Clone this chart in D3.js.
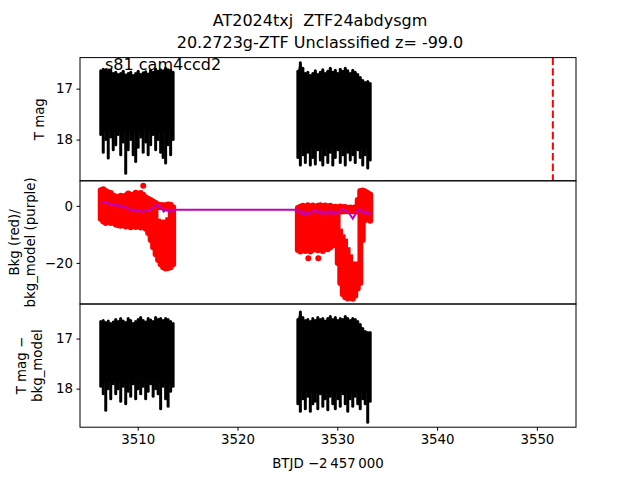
<!DOCTYPE html>
<html><head><meta charset="utf-8">
<script src="https://cdn.jsdelivr.net/npm/d3@7"></script>
<style>body{margin:0;background:#fff}text{font-family:"DejaVu Sans",sans-serif;white-space:pre}</style>
</head><body><svg id="c" width="640" height="480"></svg>
<script>
// ---- data ----
const titleLines = ["AT2024txj  ZTF24abdysgm", "20.2723g-ZTF Unclassified z= -99.0"];
const sectorLabel = "s81 cam4ccd2";
const xTicks = [3510, 3520, 3530, 3540, 3550];
const magTicks = [17, 18];
const bkgTicks = [0, -20];
const markerTime = 3551.6;

const t1 = [3506.3,3506.55,3506.8,3507.05,3507.3,3507.55,3507.8,3508.05,3508.3,3508.55,3508.8,3509.05,3509.3,3509.55,3509.8,3510.05,3510.3,3510.55,3510.8,3511.05,3511.3,3511.55,3511.8,3512.05,3512.3,3512.55,3512.8,3513.05,3513.3,3513.55];
const t2 = [3526.05,3526.3,3526.55,3526.8,3527.05,3527.3,3527.55,3527.8,3528.05,3528.3,3528.55,3528.8,3529.05,3529.3,3529.55,3529.8,3530.05,3530.3,3530.55,3530.8,3531.05,3531.3,3531.55,3531.8,3532.05,3532.3,3532.55,3532.8,3533.05,3533.3];

// T mag (upper / lower extent of the error bars in each time bin)
const magHi1 = [16.65,16.62,16.63,16.66,16.64,16.7,16.68,16.72,16.7,16.66,16.73,16.7,16.68,16.74,16.7,16.66,16.72,16.69,16.67,16.71,16.64,16.68,16.62,16.66,16.63,16.65,16.6,16.63,16.64,16.68];
const magLo1 = [17.9,18.25,18.0,18.36,17.95,18.2,18.1,17.9,18.3,18.05,18.66,18.2,18.0,18.3,18.43,18.15,17.95,18.25,18.05,18.3,18.1,17.9,18.2,18.0,18.25,18.35,18.46,18.1,18.3,18.0];
const magHi2 = [16.66,16.49,16.6,16.7,16.68,16.74,16.7,16.65,16.72,16.68,16.63,16.7,16.66,16.6,16.68,16.64,16.7,16.62,16.66,16.6,16.65,16.7,16.64,16.68,16.72,16.78,16.84,16.88,16.86,16.9];
const magLo2 = [18.35,18.5,18.3,18.45,18.25,18.5,18.35,18.48,18.2,18.4,18.5,18.3,18.45,18.25,18.5,18.35,18.2,18.45,18.3,18.5,18.25,18.4,18.3,18.45,18.2,18.35,18.5,18.3,18.56,18.4];
const magBody1 = 17.85, magBody2 = 18.18;

// Background (red) extent per bin, with white gaps inside the cloud
const bkgTop1 = [5.5,5.8,5.2,4.8,4.5,3.6,3.3,3.0,3.5,3.2,3.6,4.3,4.0,3.8,4.6,4.2,4.5,3.9,3.0,2.5,2.0,1.5,1.0,0.5,0.3,0.2,0.2,0.5,0.4,-0.5];
const bkgBot1 = [-4.5,-5.5,-6.0,-5.2,-6.0,-5.8,-6.5,-6.8,-7.0,-6.5,-7.2,-6.8,-7.5,-7.0,-7.4,-7.0,-7.6,-7.2,-8.0,-9.5,-12.0,-14.5,-17.0,-19.0,-20.5,-21.5,-22.0,-21.8,-21.5,-20.5];
const bkgTop2 = [-0.8,-0.3,0.0,-0.5,0.2,-0.3,0.1,-0.4,0.0,0.2,-0.2,0.1,-0.3,0.0,-0.5,-0.3,-0.5,-0.2,-0.5,-0.4,-0.8,-0.6,-0.8,-0.5,2.0,5.2,5.4,5.0,4.5,4.0];
const bkgBot2 = [-15.5,-16.0,-15.0,-15.8,-15.2,-16.0,-15.4,-14.8,-15.6,-15.0,-15.8,-14.6,-15.2,-14.5,-13.8,-13.0,-20.0,-27.0,-31.0,-32.0,-32.5,-32.0,-32.6,-31.5,-29.0,-27.0,-12.0,-5.0,-4.5,-5.2];
const gapT = [3512.3,3512.55,3512.8,3530.55,3530.8,3531.05,3531.3,3531.55,3531.8];
const gapHi = [-1.5,-1.5,-2.0,-3.0,-3.0,-3.0,-3.0,-3.0,-3.0];
const gapLo = [-4.5,-4.8,-4.0,-8.0,-10.0,-11.5,-14.5,-17.0,-19.5];
const bkgOutT = [3510.56,3527.1,3528.1];
const bkgOutV = [7.0,-18.4,-18.4];

// Background model (purple)
const modelT = [3506.3,3506.6,3506.9,3507.2,3507.5,3507.8,3508.1,3508.4,3508.7,3509.0,3509.3,3509.6,3509.9,3510.2,3510.5,3510.8,3511.1,3511.4,3511.7,3512.0,3512.3,3512.6,3512.9,3513.2,3513.5,
  3526.1,3526.3,3526.55,3526.8,3527.05,3527.3,3527.55,3527.8,3528.05,3528.3,3528.55,3528.8,3529.05,3529.3,3529.55,3529.8,3530.05,3530.3,3530.55,3530.8,3531.05,3531.3,3531.55,3531.8,3532.05,3532.3,3532.55,3532.8,3533.05,3533.3];
const modelV = [1.6,1.0,1.2,0.5,0.7,0.0,0.3,-0.5,-0.2,-1.0,-1.6,-1.2,-2.0,-1.6,-2.2,-1.5,-1.8,-1.0,-0.3,0.4,-0.5,-2.0,-1.2,-2.2,-1.4,
  -1.4,-2.8,-1.8,-3.3,-2.2,-3.0,-2.0,-1.3,-2.5,-1.8,-3.2,-2.0,-2.8,-1.6,-3.0,-2.2,-2.8,-1.4,-1.2,-1.6,-2.0,-3.2,-4.5,-3.0,-1.5,-1.2,-2.6,-1.8,-3.0,-2.0];

// T mag - bkg_model
const detHi1 = [16.66,16.64,16.68,16.65,16.7,16.67,16.62,16.66,16.6,16.65,16.68,16.6,16.64,16.7,16.66,16.62,16.58,16.64,16.67,16.6,16.63,16.66,16.58,16.62,16.6,16.64,16.6,16.62,16.66,16.7];
const detLo1 = [17.95,18.1,18.43,18.0,18.2,17.9,18.1,18.0,18.25,17.95,18.3,18.05,18.15,17.9,18.2,18.0,18.1,17.95,18.2,18.05,17.9,18.15,18.0,18.1,18.4,17.95,18.2,18.35,18.05,17.95];
const detHi2 = [16.62,16.47,16.58,16.64,16.62,16.66,16.6,16.64,16.58,16.62,16.6,16.65,16.6,16.56,16.62,16.58,16.64,16.6,16.62,16.56,16.6,16.64,16.6,16.62,16.66,16.72,16.8,16.86,16.88,16.88];
const detLo2 = [18.3,18.45,18.2,18.4,18.15,18.45,18.3,18.25,18.4,18.1,18.35,18.2,18.42,18.15,18.3,18.4,18.2,18.35,18.1,18.3,18.45,18.2,18.35,18.15,18.3,18.4,18.2,18.3,18.67,18.25];
const detBody1 = 17.88, detBody2 = 18.08;

// ---- layout ----
const svg = d3.select("#c");
const L = 80, R = 576, T = 57.6, B = 427.2, ph = (B - T) / 3;
const x = d3.scaleLinear().domain([3504.22, 3553.92]).range([L, R]);
const yMag = d3.scaleLinear().domain([16.39, 18.81]).range([T, T + ph]);
const yBkg = d3.scaleLinear().domain([8.77, -34.4]).range([T + ph, T + 2 * ph]);
const yDet = d3.scaleLinear().domain([16.31, 18.77]).range([T + 2 * ph, B]);

const defs = svg.append("defs");
[0, 1, 2].forEach(i => {
  defs.append("clipPath").attr("id", "cp" + i).append("rect")
    .attr("x", L).attr("y", T + i * ph).attr("width", R - L).attr("height", ph);
});

function body(g, ts, hi, lo, y, color) {
  g.append("path").datum(ts.map((t, i) => [t, hi[i], lo[i]]))
    .attr("d", d3.area().curve(d3.curveMonotoneX).x(d => x(d[0])).y0(d => y(d[1])).y1(d => y(d[2])))
    .attr("fill", color);
}
function bars(g, ts, hi, lo, y, color, w) {
  g.selectAll(null).data(ts.map((t, i) => [t, hi[i], lo[i]])).enter().append("line")
    .attr("x1", d => x(d[0])).attr("x2", d => x(d[0]))
    .attr("y1", d => y(d[1])).attr("y2", d => y(d[2]))
    .attr("stroke", color).attr("stroke-width", w).attr("stroke-linecap", "round");
}

// Panel 1
const g1 = svg.append("g").attr("clip-path", "url(#cp0)");
body(g1, t1, magHi1, t1.map(() => magBody1), yMag, "#000");
body(g1, t2, magHi2, t2.map(() => magBody2), yMag, "#000");
bars(g1, t1, magHi1, magLo1, yMag, "#000", 3);
bars(g1, t2, magHi2, magLo2, yMag, "#000", 3);
g1.append("line").attr("x1", x(markerTime)).attr("x2", x(markerTime))
  .attr("y1", T).attr("y2", T + ph).attr("stroke", "#ff0000").attr("stroke-width", 2)
  .attr("stroke-dasharray", "7.4,3.2");

// Panel 2
const g2 = svg.append("g").attr("clip-path", "url(#cp1)");
body(g2, t1, bkgTop1, bkgBot1, yBkg, "#ff0000");
body(g2, t2, bkgTop2, bkgBot2, yBkg, "#ff0000");
bars(g2, t1, bkgTop1, bkgBot1, yBkg, "#ff0000", 6);
bars(g2, t2, bkgTop2, bkgBot2, yBkg, "#ff0000", 6);
g2.selectAll(null).data(gapT.map((t, i) => [t, gapHi[i], gapLo[i]])).enter().append("rect")
  .attr("x", d => x(d[0]) - 2.2).attr("width", 4.4)
  .attr("y", d => yBkg(d[1])).attr("height", d => yBkg(d[2]) - yBkg(d[1]))
  .attr("fill", "#fff");
g2.selectAll(null).data(bkgOutT.map((t, i) => [t, bkgOutV[i]])).enter().append("circle")
  .attr("cx", d => x(d[0])).attr("cy", d => yBkg(d[1])).attr("r", 3).attr("fill", "#ff0000");
g2.append("path").datum(modelT.map((t, i) => [t, modelV[i]]))
  .attr("d", d3.line().x(d => x(d[0])).y(d => yBkg(d[1])))
  .attr("fill", "none").attr("stroke", "#bf00bf").attr("stroke-width", 2);

// Panel 3
const g3 = svg.append("g").attr("clip-path", "url(#cp2)");
body(g3, t1, detHi1, t1.map(() => detBody1), yDet, "#000");
body(g3, t2, detHi2, t2.map(() => detBody2), yDet, "#000");
bars(g3, t1, detHi1, detLo1, yDet, "#000", 3);
bars(g3, t2, detHi2, detLo2, yDet, "#000", 3);

// Frames and axes
[0, 1, 2].forEach(i => {
  svg.append("rect").attr("x", L).attr("y", T + i * ph).attr("width", R - L).attr("height", ph)
    .attr("fill", "none").attr("stroke", "#000").attr("stroke-width", 1);
});
function styleAxis(g) {
  g.select(".domain").remove();
  g.selectAll("text").attr("font-size", "13.33px").attr("fill", "#000")
    .style("font-family", "'DejaVu Sans', sans-serif");
  g.selectAll("line").attr("stroke", "#000").attr("stroke-width", 1);
}
svg.append("g").attr("transform", `translate(0,${B})`)
  .call(d3.axisBottom(x).tickValues(xTicks).tickFormat(d3.format("d")).tickSize(3.5).tickPadding(3.5))
  .call(styleAxis);
svg.append("g").attr("transform", `translate(${L},0)`)
  .call(d3.axisLeft(yMag).tickValues(magTicks).tickFormat(d3.format("d")).tickSize(3.5).tickPadding(3.5))
  .call(styleAxis);
svg.append("g").attr("transform", `translate(${L},0)`)
  .call(d3.axisLeft(yBkg).tickValues(bkgTicks).tickFormat(d3.format("d")).tickSize(3.5).tickPadding(3.5))
  .call(styleAxis);
svg.append("g").attr("transform", `translate(${L},0)`)
  .call(d3.axisLeft(yDet).tickValues(magTicks).tickFormat(d3.format("d")).tickSize(3.5).tickPadding(3.5))
  .call(styleAxis);

// Titles and labels
svg.append("text").attr("x", 320).attr("y", 26).attr("text-anchor", "middle")
  .attr("xml:space", "preserve").attr("font-size", "16px").text(titleLines[0]);
svg.append("text").attr("x", 320).attr("y", 48).attr("text-anchor", "middle")
  .attr("font-size", "16px").text(titleLines[1]);
svg.append("text").attr("x", 105).attr("y", 70).attr("font-size", "16px").text(sectorLabel);

function ylabel(lines, cx, cy) {
  const t = svg.append("text").attr("transform", `translate(${cx},${cy}) rotate(-90)`)
    .attr("text-anchor", "middle").attr("font-size", "13.33px");
  lines.forEach((s, i) => t.append("tspan").attr("x", 0)
    .attr("dy", i === 0 ? (-(lines.length - 1) * 0.6 + 0.35) + "em" : "1.2em").text(s));
}
ylabel(["T mag"], 39, T + ph / 2);
ylabel(["Bkg (red)/", "bkg_model (purple)"], 22, T + 1.5 * ph);
ylabel(["T mag \u2212", "bkg_model"], 29, T + 2.5 * ph);

svg.append("text").attr("x", 328).attr("y", 468).attr("text-anchor", "middle")
  .attr("font-size", "13.33px").text("BTJD \u22122\u2009457\u2009000");
</script></body></html>
